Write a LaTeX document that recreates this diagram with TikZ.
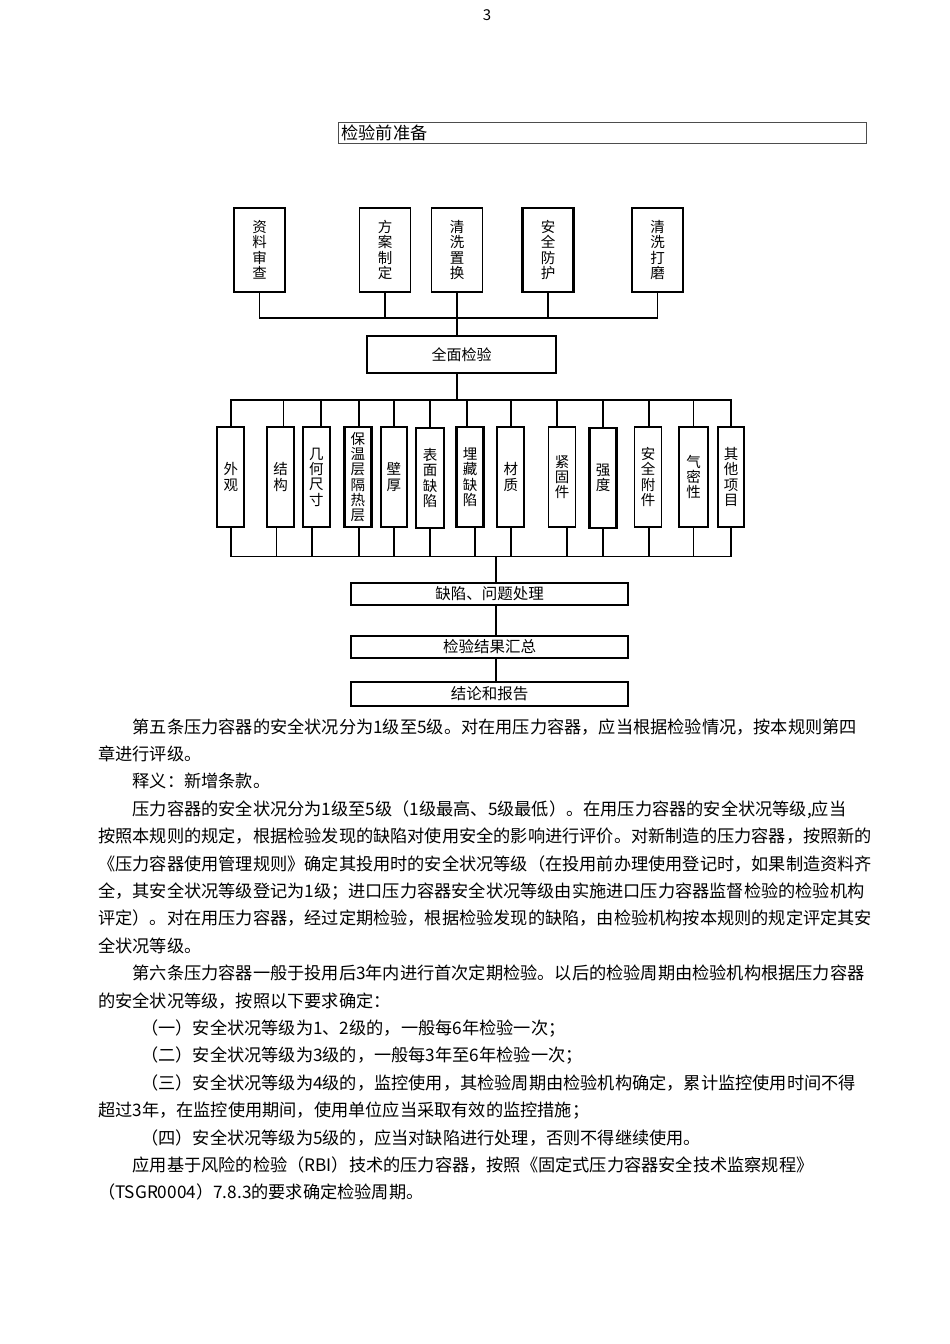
\documentclass[tikz,border=0pt]{standalone}
\usepackage{fontspec}
\usepackage{xcolor}
\setmainfont{Noto Sans CJK SC}
\usetikzlibrary{positioning}
\definecolor{FrameGray}{HTML}{4D4D4D}
% glue between CJK chars so full lines can be justified
\XeTeXinterchartokenstate=1
\newcommand{\cjkglue}{\hskip 0pt plus 2pt minus 0.3pt\relax}
\newcommand{\cjkspace}{\hskip 1.5pt plus 2pt minus 1pt\relax}
\XeTeXinterchartoks 1 1 = {\cjkglue}
\XeTeXinterchartoks 1 2 = {\cjkglue}
\XeTeXinterchartoks 1 3 = {\cjkglue}
\XeTeXinterchartoks 2 1 = {\cjkglue}
\XeTeXinterchartoks 3 1 = {\cjkglue}
\XeTeXinterchartoks 3 2 = {\cjkglue}
\XeTeXinterchartoks 3 3 = {\cjkglue}
\XeTeXinterchartoks 0 1 = {\cjkspace}
\XeTeXinterchartoks 1 0 = {\cjkspace}
\XeTeXinterchartoks 3 0 = {\cjkglue}
\XeTeXinterchartoks 0 3 = {\cjkglue}
\XeTeXinterchartoks 2 0 = {\cjkglue}
\begin{document}
\begin{tikzpicture}[x=1pt, y=-1pt,
    box/.style={draw, line width=1.8pt, inner sep=0pt, align=center},
    pbox/.style={box, minimum width=51pt, minimum height=84pt, font=\fontsize{14.5}{15.5}\selectfont},
    vbox/.style={box, minimum width=27pt, minimum height=100pt, font=\fontsize{14.5}{15.3}\selectfont},
    sbox/.style={box, minimum width=277pt, minimum height=22pt, font=\fontsize{15.5}{18}\selectfont},
    link/.style={line width=1.8pt, line cap=rect},
    txt/.style={anchor=base west, inner sep=0pt, font=\fontsize{17.2}{20}\selectfont}]
    \fill[white] (0,0) rectangle (950,1344);
    \useasboundingbox (0,0) rectangle (950,1344);
    % page number and heading
    \node[font=\fontsize{15}{18}\selectfont] (pg) at (487,15) {3};
    \node[draw=FrameGray, line width=1pt, anchor=north west, minimum width=528pt, minimum height=21pt,
          inner xsep=3pt, inner ysep=0pt, text width=522pt, align=left, font=\fontsize{17.2}{20}\selectfont] (prep) at (338,122) {检验前准备};
    % preparation steps
    \node[pbox] (zlsc) at (259.5,250) {资\\料\\审\\查};
    \node[pbox] (fazd) at (385,250) {方\\案\\制\\定};
    \node[pbox] (qxzh) at (457,250) {清\\洗\\置\\换};
    \node[pbox, line width=2.4pt] (aqfh) at (548,250) {安\\全\\防\\护};
    \node[pbox] (qxdm) at (657.5,250) {清\\洗\\打\\磨};
    \coordinate (bus1) at (457,318);
    \draw[link] (zlsc.south) |- (bus1) -| (qxdm.south);
    \draw[link] (fazd.south) -- (fazd.south |- bus1);
    \draw[link] (aqfh.south) -- (aqfh.south |- bus1);
    % full inspection
    \node[box, minimum width=189pt, minimum height=37pt, font=\fontsize{15}{18}\selectfont] (qmjy) at (461.5,354.5) {全面检验};
    \draw[link, line width=2.6pt] (qxzh.south) -- (qmjy.north -| qxzh);
    \coordinate (bus2) at (457,400);
    \coordinate (bus3) at (457,556.5);
    \draw[link, line width=2.6pt] (qmjy.south -| qxzh) -- (bus2);
    % inspection items
    \node[vbox] (wg) at (230.8,477) {外\\观};
    \node[vbox] (jg) at (280.5,477) {结\\构};
    \node[vbox] (jhcc) at (316.3,477) {几\\何\\尺\\寸};
    \node[vbox, line width=2.6pt] (bwc) at (357.8,477) {保\\温\\层\\隔\\热\\层};
    \node[vbox, minimum width=25.7pt] (bh) at (393.8,477) {壁\\厚};
    \node[vbox, minimum width=28.6pt] (bmqx) at (430,478) {表\\面\\缺\\陷};
    \node[vbox, line width=2.4pt] (mcqx) at (470,477) {埋\\藏\\缺\\陷};
    \node[vbox] (cz) at (510.8,477) {材\\质};
    \node[vbox] (jgj) at (562,477) {紧\\固\\件};
    \node[vbox, line width=2.6pt] (qd) at (603,478) {强\\度};
    \node[vbox] (aqfj) at (648,477) {安\\全\\附\\件};
    \node[vbox, minimum width=28.4pt] (qmx) at (693.5,477) {气\\密\\性};
    \node[vbox, minimum width=26.3pt] (qtxm) at (731,477) {其\\他\\项\\目};
    \draw[link] (wg.north |- bus2) -- (qtxm.north |- bus2);
    \draw[link] (wg.south |- bus3) -- (qtxm.south |- bus3);
    \foreach \b/\dt/\db in {wg/0/0, jg/3/-4, jhcc/5/-4, bwc/1/1, bh/0/0, bmqx/0/0, mcqx/-3/5,
                            cz/0/0, jgj/-5/5, qd/0/0, aqfj/1/1, qmx/0/0, qtxm/0/0}
    {
        \draw[link] ([xshift=\dt pt]\b.north) -- ([xshift=\dt pt]\b.north |- bus2);
        \draw[link] ([xshift=\db pt]\b.south) -- ([xshift=\db pt]\b.south |- bus3);
    }
    % result handling
    \node[sbox] (qxcl) at (489.5,594) {缺陷、问题处理};
    \node[sbox] (jghz) at (489.5,647) {检验结果汇总};
    \node[sbox, minimum height=24pt] (jlbg) at (489.5,694) {结论和报告};
    \coordinate (drop) at (496,556.5);
    \draw[link] (drop) -- (qxcl.north -| drop);
    \draw[link] (qxcl.south -| drop) -- (jghz.north -| drop);
    \draw[link, line width=2.6pt] (jghz.south -| drop) -- (jlbg.north -| drop);
    % body text
    \node[txt] (l1) at (132.4,733) {\makebox[725.6pt][s]{第五条压力容器的安全状况分为1级至5级。对在用压力容器，应当根据检验情况，按本规则第四}};
    \node[txt] (l2) at (98,760.4) {章进行评级。};
    \node[txt] (l3) at (132.4,787.8) {释义：新增条款。};
    \node[txt] (l4) at (132.4,815.2) {\makebox[725.6pt][s]{压力容器的安全状况分为1级至5级（1级最高、5级最低）。在用压力容器的安全状况等级,应当}};
    \node[txt] (l5) at (98,842.6) {\makebox[760pt][s]{按照本规则的规定，根据检验发现的缺陷对使用安全的影响进行评价。对新制造的压力容器，按照新的}};
    \node[txt] (l6) at (98,870) {\makebox[760pt][s]{《压力容器使用管理规则》确定其投用时的安全状况等级（在投用前办理使用登记时，如果制造资料齐}};
    \node[txt] (l7) at (98,897.4) {\makebox[760pt][s]{全，其安全状况等级登记为1级；进口压力容器安全状况等级由实施进口压力容器监督检验的检验机构}};
    \node[txt] (l8) at (98,924.8) {\makebox[760pt][s]{评定）。对在用压力容器，经过定期检验，根据检验发现的缺陷，由检验机构按本规则的规定评定其安}};
    \node[txt] (l9) at (98,952.2) {全状况等级。};
    \node[txt] (l10) at (132.4,979.6) {\makebox[725.6pt][s]{第六条压力容器一般于投用后3年内进行首次定期检验。以后的检验周期由检验机构根据压力容器}};
    \node[txt] (l11) at (98,1007) {的安全状况等级，按照以下要求确定：};
    \node[txt] (l12) at (141,1034.4) {（一）安全状况等级为1、2级的，一般每6年检验一次；};
    \node[txt] (l13) at (141,1061.8) {（二）安全状况等级为3级的，一般每3年至6年检验一次；};
    \node[txt] (l14) at (141,1089.2) {\makebox[717pt][s]{（三）安全状况等级为4级的，监控使用，其检验周期由检验机构确定，累计监控使用时间不得}};
    \node[txt] (l15) at (98,1116.6) {超过3年，在监控使用期间，使用单位应当采取有效的监控措施；};
    \node[txt] (l16) at (141,1144) {（四）安全状况等级为5级的，应当对缺陷进行处理，否则不得继续使用。};
    \node[txt] (l17) at (132.4,1171.4) {应用基于风险的检验（RBI）技术的压力容器，按照《固定式压力容器安全技术监察规程》};
    \node[txt] (l18) at (98,1198.8) {（TSGR0004）7.8.3的要求确定检验周期。};
\end{tikzpicture}
\end{document}
